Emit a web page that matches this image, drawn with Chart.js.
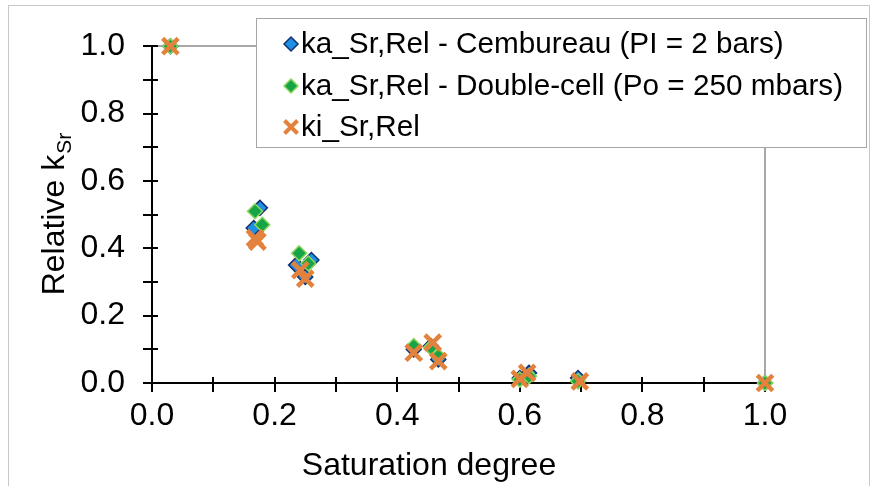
<!DOCTYPE html>
<html>
<head>
<meta charset="utf-8">
<script src="https://cdn.jsdelivr.net/npm/chart.js@4/dist/chart.umd.min.js"></script>
<style>
  html, body { margin: 0; padding: 0; background: #fff; }
  #wrap { width: 879px; height: 486px; }
</style>
</head>
<body>
<div id="wrap"><canvas id="c" width="879" height="486"></canvas></div>
<script>
// ---- Data ----
const seriesLabels = [
  "ka_Sr,Rel - Cembureau (PI = 2 bars)",
  "ka_Sr,Rel - Double-cell (Po = 250 mbars)",
  "ki_Sr,Rel"
];
const cembureauX = [0.03, 0.176, 0.166, 0.26, 0.235, 0.25, 0.427, 0.455, 0.467, 0.60, 0.615, 0.695, 1.0];
const cembureauY = [1.00, 0.52, 0.46, 0.365, 0.35, 0.315, 0.10, 0.11, 0.07, 0.015, 0.03, 0.015, 0.0];
const doubleCellX = [0.03, 0.168, 0.18, 0.24, 0.255, 0.427, 0.455, 0.467, 0.60, 0.615, 0.695, 1.0];
const doubleCellY = [1.00, 0.51, 0.47, 0.385, 0.355, 0.11, 0.105, 0.08, 0.01, 0.02, 0.005, 0.0];
const kiX = [0.03, 0.168, 0.172, 0.242, 0.25, 0.427, 0.458, 0.467, 0.60, 0.612, 0.698, 1.0];
const kiY = [1.00, 0.43, 0.42, 0.335, 0.31, 0.09, 0.12, 0.065, 0.012, 0.03, 0.005, 0.0];
const majorTicks = [0.0, 0.2, 0.4, 0.6, 0.8, 1.0];
const minorTicks = [0.0, 0.1, 0.2, 0.3, 0.4, 0.5, 0.6, 0.7, 0.8, 0.9, 1.0];
const xTitle = "Saturation degree";
const yTitleMain = "Relative k";
const yTitleSub = "Sr";

const FONT = "'Liberation Sans', Arial, sans-serif";
const toPts = (xs, ys) => xs.map((v, i) => ({ x: v, y: ys[i] }));

const styles = [
  { pointStyle: 'rectRot', radius: 7.5, bg: '#1f8fe3', border: '#14306e', bw: 1.5 },
  { pointStyle: 'rectRot', radius: 7.5, bg: '#15a546', border: '#8fd65c', bw: 1.5 },
  { pointStyle: 'crossRot', radius: 11, bg: '#e3823c', border: '#e3823c', bw: 4.5 }
];
const seriesData = [toPts(cembureauX, cembureauY), toPts(doubleCellX, doubleCellY), toPts(kiX, kiY)];

const datasets = seriesData.map((d, i) => ({
  label: seriesLabels[i],
  data: d,
  pointStyle: styles[i].pointStyle,
  pointRadius: styles[i].radius,
  pointHoverRadius: styles[i].radius,
  pointBackgroundColor: styles[i].bg,
  pointBorderColor: styles[i].border,
  pointBorderWidth: styles[i].bw,
  showLine: false,
  clip: false,
  order: 3 - i
}));

const framePlugin = {
  id: 'frame',
  beforeDraw(chart) {
    const ctx = chart.ctx;
    ctx.save();
    ctx.fillStyle = '#fff';
    ctx.fillRect(0, 0, chart.width, chart.height);
    ctx.strokeStyle = '#c8c8c8';
    ctx.lineWidth = 1;
    ctx.strokeRect(8.5, 5.5, 861, 500);
    ctx.restore();
  },
  beforeDatasetsDraw(chart) {
    const { ctx, scales: { x, y } } = chart;
    const l = Math.round(x.getPixelForValue(0)), r = Math.round(x.getPixelForValue(1));
    const t = Math.round(y.getPixelForValue(1)), b = Math.round(y.getPixelForValue(0));
    ctx.save();
    ctx.strokeStyle = '#8c8c8c';
    ctx.lineWidth = 1.5;
    ctx.beginPath();
    ctx.moveTo(l, t); ctx.lineTo(r, t);
    ctx.moveTo(r, t); ctx.lineTo(r, b);
    ctx.stroke();
    ctx.strokeStyle = '#000';
    ctx.lineWidth = 2;
    ctx.beginPath();
    ctx.moveTo(l, t); ctx.lineTo(l, b + 1);
    ctx.moveTo(l - 1, b); ctx.lineTo(r, b);
    minorTicks.forEach(v => {
      const py = Math.round(y.getPixelForValue(v));
      ctx.moveTo(l - 9, py); ctx.lineTo(l + 6, py);
      const px = Math.round(x.getPixelForValue(v));
      ctx.moveTo(px, b - 6); ctx.lineTo(px, b + 9);
    });
    ctx.stroke();
    ctx.restore();
  },
  afterDraw(chart) {
    const { ctx, scales: { x, y } } = chart;
    const cy = (y.getPixelForValue(0) + y.getPixelForValue(1)) / 2;
    ctx.save();
    ctx.fillStyle = '#000';
    // X title
    ctx.font = `32px ${FONT}`;
    ctx.textAlign = 'center';
    ctx.textBaseline = 'middle';
    ctx.fillText(xTitle, 429, 466);
    // Y title with subscript
    ctx.save();
    ctx.translate(52, cy);
    ctx.rotate(-Math.PI / 2);
    ctx.font = `32px ${FONT}`;
    const w1 = ctx.measureText(yTitleMain).width;
    ctx.font = `21px ${FONT}`;
    const w2 = ctx.measureText(yTitleSub).width;
    const start = -(w1 + w2) / 2;
    ctx.textAlign = 'left';
    ctx.textBaseline = 'alphabetic';
    ctx.font = `32px ${FONT}`;
    ctx.fillText(yTitleMain, start, 12);
    ctx.font = `21px ${FONT}`;
    ctx.fillText(yTitleSub, start + w1 + 1, 19);
    ctx.restore();
    // Legend
    const bx = 256.5, by = 18.5, bw = 610, bh = 129;
    ctx.fillStyle = '#fff';
    ctx.fillRect(bx, by, bw, bh);
    ctx.strokeStyle = '#a6a6a6';
    ctx.lineWidth = 1;
    ctx.strokeRect(bx, by, bw, bh);
    const rows = [44, 86, 127];
    chart.data.datasets.forEach((ds, i) => {
      const st = styles[i];
      const mx = 291, my = rows[i];
      ctx.fillStyle = st.bg;
      ctx.strokeStyle = st.border;
      ctx.lineWidth = st.pointStyle === 'crossRot' ? 4 : 1.5;
      ctx.beginPath();
      if (st.pointStyle === 'rectRot') {
        ctx.moveTo(mx, my - 7); ctx.lineTo(mx + 7, my); ctx.lineTo(mx, my + 7); ctx.lineTo(mx - 7, my); ctx.closePath();
        ctx.fill(); ctx.stroke();
      } else {
        ctx.moveTo(mx - 6.5, my - 6.5); ctx.lineTo(mx + 6.5, my + 6.5);
        ctx.moveTo(mx + 6.5, my - 6.5); ctx.lineTo(mx - 6.5, my + 6.5);
        ctx.stroke();
      }
      ctx.fillStyle = '#000';
      ctx.font = `29.7px ${FONT}`;
      ctx.textAlign = 'left';
      ctx.textBaseline = 'middle';
      ctx.fillText(ds.label, 301, my + 1);
    });
    ctx.restore();
  }
};

new Chart(document.getElementById('c'), {
  type: 'scatter',
  data: { datasets },
  options: {
    responsive: false,
    animation: false,
    layout: { padding: { left: 0, right: 114, top: 44, bottom: 0 } },
    plugins: { legend: { display: false }, tooltip: { enabled: false } },
    scales: {
      x: {
        type: 'linear', min: 0, max: 1,
        afterFit(s) { s.height = 103; },
        afterBuildTicks(s) { s.ticks = majorTicks.map(v => ({ value: v })); },
        grid: { display: false, drawTicks: false },
        border: { display: false },
        ticks: { color: '#000', font: { family: FONT, size: 32 }, padding: 14, maxRotation: 0, autoSkip: false,
                 callback: v => Number(v).toFixed(1) }
      },
      y: {
        type: 'linear', min: 0, max: 1,
        afterFit(s) { s.width = 152; },
        afterBuildTicks(s) { s.ticks = majorTicks.map(v => ({ value: v })); },
        grid: { display: false, drawTicks: false },
        border: { display: false },
        ticks: { color: '#000', font: { family: FONT, size: 32 }, padding: 27, autoSkip: false,
                 callback: v => Number(v).toFixed(1) }
      }
    }
  },
  plugins: [framePlugin]
});
</script>
</body>
</html>
